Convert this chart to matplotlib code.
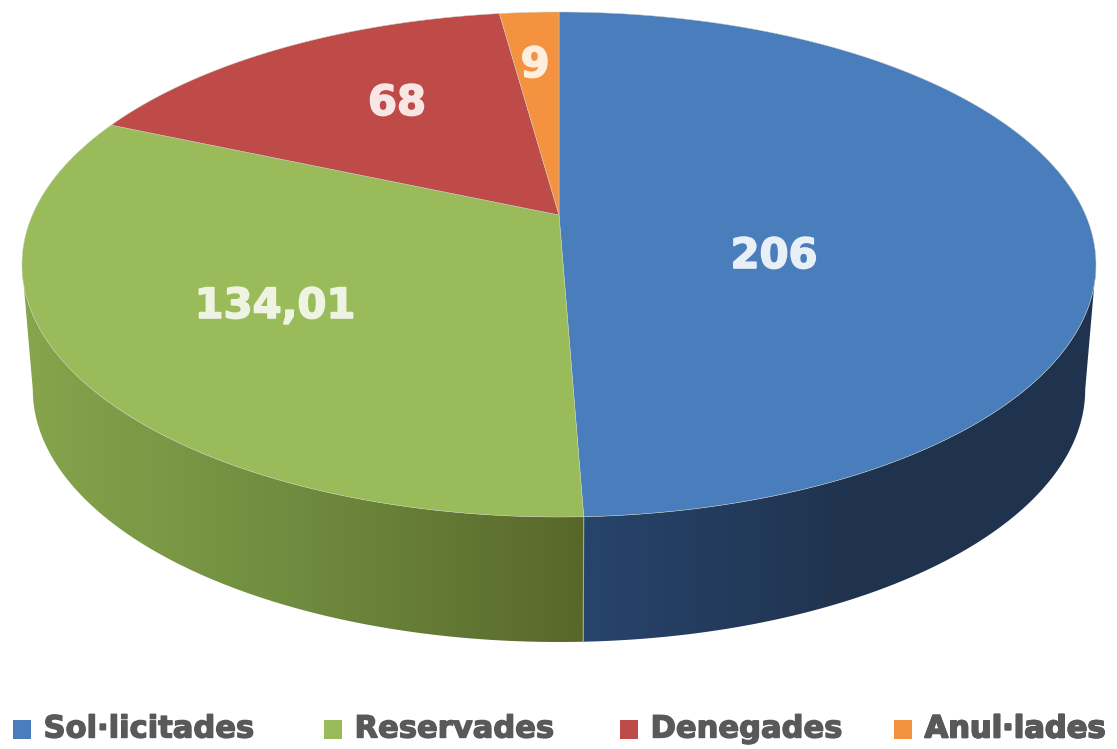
import numpy as np
import matplotlib
matplotlib.use('Agg')
import matplotlib.pyplot as plt
import matplotlib.patheffects as pe
from matplotlib.colors import LinearSegmentedColormap
from matplotlib.patches import Patch, Polygon

# Data
labels = ['Sol·licitades', 'Reservades', 'Denegades', 'Anul·lades']
values = [206, 134.01, 68, 9]
value_text = ['206', '134,01', '68', '9']
colors = ['#4a7dbb', '#99bb59', '#be4b48', '#f59240']
text_colors = ['#e9eff7', '#eef3e2', '#f8e6e4', '#fdeedd']
label_pos = [(774, 256), (275, 306), (397, 103), (535, 65)]
legend_x = [13, 324, 620, 894]

# Side wall shading, left to right
wall_colors = [['#27446c', '#20344f', '#1f3350'],
               ['#86a54c', '#6f8b3f', '#586729'],
               ['#8c2f2c', '#8c2f2c', '#8c2f2c'],
               ['#b86a28', '#b86a28', '#b86a28']]

# Perspective of the disc (pixels)
center_x = 559
top_y = 215
bottom_y = 340
spread_top = 526.6
spread_bottom = 516
height = 242.8
tilt = 0.196


def rim(theta, base_y, spread):
    # theta runs clockwise from the top of the disc
    w = 1 + tilt * np.cos(theta)
    x = center_x + spread * np.sin(theta) / w
    y = base_y - height * np.cos(theta) / w
    return x, y


fig = plt.figure(figsize=(11.17, 7.49), dpi=100)
ax = fig.add_axes([0, 0, 1, 1])

edges = np.cumsum([0] + values) / sum(values) * 2 * np.pi

# Only the front of the disc shows a wall, between the widest points of the rim
front_start = np.arccos(-tilt)
front_end = 2 * np.pi - front_start

for i in range(len(values)):
    start = max(edges[i], front_start)
    end = min(edges[i + 1], front_end)
    if end <= start:
        continue
    theta = np.linspace(start, end, 200)
    x1, y1 = rim(theta, top_y, spread_top)
    x2, y2 = rim(theta, bottom_y, spread_bottom)
    outline = np.column_stack([np.r_[x1, x2[::-1]], np.r_[y1, y2[::-1]]])
    clip = Polygon(outline, closed=True, transform=ax.transData, facecolor='none', edgecolor='none')
    ax.add_patch(clip)
    cmap = LinearSegmentedColormap.from_list('wall', wall_colors[i])
    x_min, x_max = outline[:, 0].min(), outline[:, 0].max()
    y_min, y_max = outline[:, 1].min(), outline[:, 1].max()
    img = ax.imshow(np.linspace(0, 1, 256).reshape(1, -1), cmap=cmap, aspect='auto',
                    extent=[x_min, x_max, y_max, y_min], zorder=1)
    img.set_clip_path(clip)

# Pale seam where green and blue walls meet
seam = edges[1]
sx1, sy1 = rim(seam, top_y, spread_top)
sx2, sy2 = rim(seam, bottom_y, spread_bottom)
ax.plot([sx1, sx2], [sy1, sy2], color='#9fb08a', lw=0.8, zorder=2)

# Top face
for i in range(len(values)):
    theta = np.linspace(edges[i], edges[i + 1], 300)
    x, y = rim(theta, top_y, spread_top)
    ax.fill(np.r_[center_x, x], np.r_[top_y, y], facecolor=colors[i],
            edgecolor='#c9d3c4', lw=0.35, zorder=3)
    tx, ty = label_pos[i]
    ax.text(tx, ty, value_text[i], color=text_colors[i], fontsize=30, fontweight='bold',
            family='DejaVu Sans', ha='center', va='center', zorder=5,
            path_effects=[pe.withStroke(linewidth=1.2, foreground=text_colors[i])])

# One legend per entry, the gaps in the picture are not even
for i in range(len(labels)):
    leg = ax.legend([Patch(facecolor=colors[i], edgecolor='none')], [labels[i]], loc='center left',
                    bbox_to_anchor=(legend_x[i] / 1117, 1 - 729 / 749), frameon=False,
                    handlelength=0.58, handleheight=0.58, handletextpad=0.42,
                    borderaxespad=0, borderpad=0,
                    prop={'family': 'DejaVu Sans', 'weight': 'bold', 'size': 22})
    for t in leg.get_texts():
        t.set_color('#595959')
        t.set_path_effects([pe.withStroke(linewidth=1.0, foreground='#595959')])
    for p in leg.get_patches():
        p.set_y(p.get_y() - 2)
    ax.add_artist(leg)

ax.set_xlim(0, 1117)
ax.set_ylim(749, 0)
ax.axis('off')

plt.savefig('out.png', dpi=100)
